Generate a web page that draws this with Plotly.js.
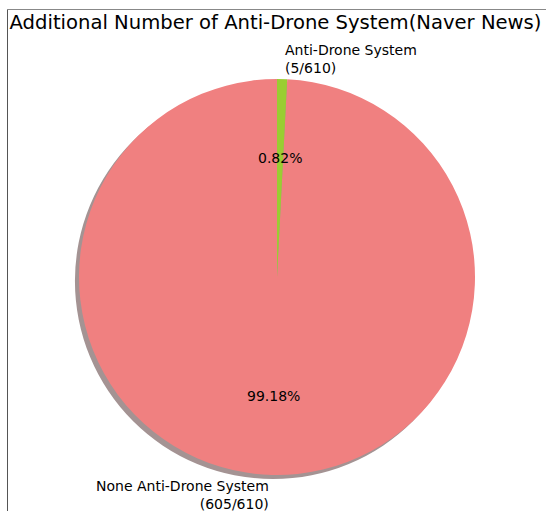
<!DOCTYPE html>
<html>
<head>
<meta charset="utf-8">
<script src="https://cdn.plot.ly/plotly-3.0.1.min.js"></script>
<style>html,body{margin:0;padding:0;background:#fff;}#chart{width:546px;height:511px;}</style>
</head>
<body>
<div id="chart"></div>
<script>
const categories = ["None Anti-Drone System", "Anti-Drone System"];
const counts = [605, 5];
const total = 610;
const colors = ["#F08080", "#9ACD32"];
const titleText = "Additional Number of Anti-Drone System(Naver News)";

const W = 546, H = 511;
const cx = 277, cy = 277, R = 198;
const dom = {x: [(cx - R) / W, (cx + R) / W], y: [1 - (cy + R) / H, 1 - (cy - R) / H]};
const sh = 4;
const shadowDom = {x: [dom.x[0] - sh / W, dom.x[1] - sh / W], y: [dom.y[0] - sh / H, dom.y[1] - sh / H]};

const sum = counts.reduce((a, b) => a + b, 0);
const annotations = [];
let start = 90;
counts.forEach((v, i) => {
  const span = 360 * v / sum;
  const mid = (start + span / 2) * Math.PI / 180;
  start += span;
  const c = Math.cos(mid), s = Math.sin(mid);
  annotations.push({
    x: (cx + c * 0.6 * R) / W, y: 1 - (cy - s * 0.6 * R) / H,
    xref: 'paper', yref: 'paper', showarrow: false,
    text: (100 * v / sum).toFixed(2) + '%',
    xanchor: 'center', yanchor: 'middle',
    font: {family: 'DejaVu Sans', size: 14, color: '#000'}
  });
  annotations.push({
    x: (cx + c * 1.1 * R) / W, y: 1 - (cy - s * 1.1 * R) / H,
    xref: 'paper', yref: 'paper', showarrow: false,
    text: categories[i] + '<br>(' + v + '/' + total + ')',
    xanchor: c > 0 ? 'left' : 'right', yanchor: 'middle',
    align: c > 0 ? 'left' : 'right',
    font: {family: 'DejaVu Sans', size: 14, color: '#000'}
  });
});

// counterclockwise from 12 o'clock, as matplotlib startangle=90
const rot = 360 * counts[1] / sum;

const data = [
  {
    type: 'pie', values: [1], labels: ['shadow'], domain: shadowDom,
    marker: {colors: ['rgb(164,147,147)'], line: {width: 0}},
    textinfo: 'none', hoverinfo: 'skip', sort: false, showlegend: false
  },
  {
    type: 'pie', values: counts, labels: categories, domain: dom,
    marker: {colors: colors, line: {width: 0}},
    textinfo: 'none', hoverinfo: 'skip', sort: false,
    direction: 'clockwise', rotation: rot, showlegend: false
  }
];

const layout = {
  width: W, height: H,
  margin: {l: 0, r: 0, t: 0, b: 0},
  paper_bgcolor: '#fff', plot_bgcolor: '#fff',
  showlegend: false,
  title: {
    text: titleText, xref: 'paper', yref: 'paper',
    x: 275.5 / W, y: 1 - 22 / H, xanchor: 'center', yanchor: 'middle',
    font: {family: 'DejaVu Sans', size: 19.6, color: '#000'}
  },
  annotations: annotations,
  shapes: [
    {type: 'line', xref: 'paper', yref: 'paper', x0: 7.5 / W, x1: 1, y0: 1 - 9.5 / H, y1: 1 - 9.5 / H, line: {color: '#888', width: 1}},
    {type: 'line', xref: 'paper', yref: 'paper', x0: 7.5 / W, x1: 7.5 / W, y0: 0, y1: 1 - 9.5 / H, line: {color: '#555', width: 1}}
  ]
};

Plotly.newPlot('chart', data, layout, {displayModeBar: false, staticPlot: true});
</script>
</body>
</html>
